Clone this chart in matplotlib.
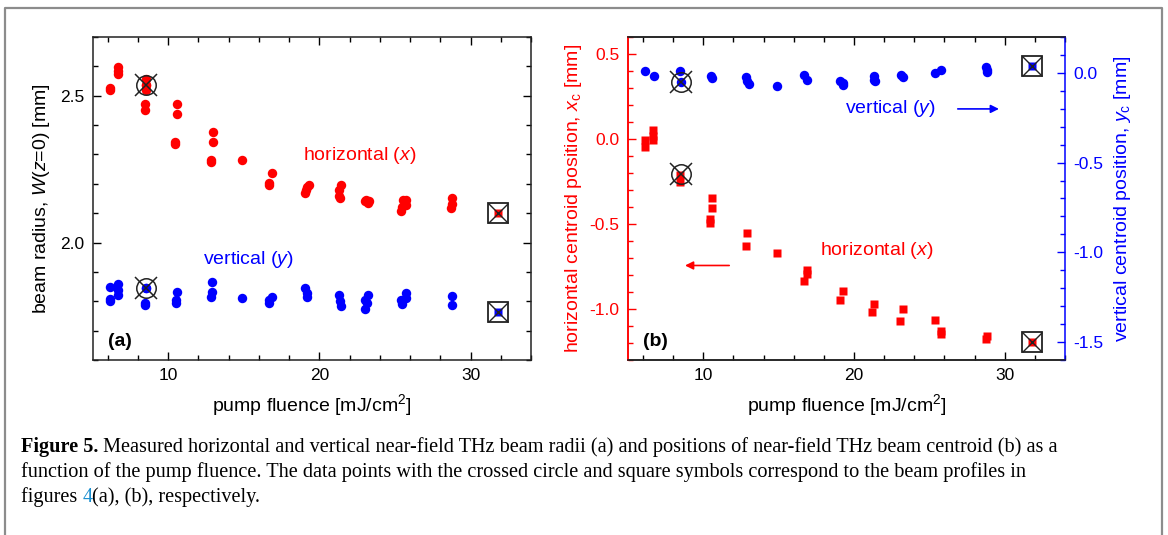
import matplotlib
matplotlib.use('Agg')
import matplotlib.pyplot as plt
from matplotlib.ticker import MultipleLocator
from matplotlib.lines import Line2D

plt.rcParams['font.family'] = ['Liberation Sans', 'DejaVu Sans']
plt.rcParams['mathtext.fontset'] = 'custom'
plt.rcParams['mathtext.rm'] = 'Liberation Sans'
plt.rcParams['mathtext.it'] = 'Liberation Sans:italic'
plt.rcParams['axes.unicode_minus'] = False

RED = '#ff0000'
BLUE = '#0000ff'

# (a) beam radius vs pump fluence
xa_hor = [6.15, 6.15, 6.7, 6.7, 6.7, 8.5, 8.5, 8.5, 8.45, 8.45,
          10.6, 10.6, 10.45, 10.45, 12.95, 12.95, 12.8, 12.8, 14.9,
          16.65, 16.65, 16.85, 19.05, 19.1, 19.2, 19.3, 21.3, 21.3, 21.35, 21.4,
          23.0, 23.1, 23.2, 23.3, 25.4, 25.45, 25.5, 25.75, 25.75, 28.7, 28.75, 28.8]
ya_hor = [2.528, 2.518, 2.597, 2.585, 2.575, 2.557, 2.535, 2.519, 2.472, 2.452,
          2.471, 2.438, 2.343, 2.337, 2.375, 2.342, 2.280, 2.274, 2.280,
          2.203, 2.195, 2.238, 2.170, 2.180, 2.190, 2.197, 2.180, 2.160, 2.152, 2.197,
          2.140, 2.146, 2.135, 2.141, 2.108, 2.122, 2.145, 2.127, 2.145, 2.117, 2.131, 2.151]
xa_ver = [6.15, 6.15, 6.15, 6.7, 6.7, 6.7, 8.5, 8.45, 8.45, 10.55, 10.5, 10.5,
          12.9, 12.9, 12.85, 14.9, 16.65, 16.7, 16.85, 19.05, 19.15, 19.15,
          21.3, 21.35, 21.4, 23.0, 23.0, 23.2, 23.15, 25.4, 25.45, 25.7, 25.7, 28.75, 28.8]
ya_ver = [1.847, 1.807, 1.800, 1.859, 1.837, 1.822, 1.844, 1.794, 1.786, 1.833, 1.805, 1.794,
          1.864, 1.830, 1.813, 1.811, 1.794, 1.805, 1.816, 1.845, 1.828, 1.815,
          1.822, 1.800, 1.785, 1.773, 1.805, 1.822, 1.795, 1.805, 1.790, 1.828, 1.812, 1.819, 1.789]
xa_circ = [8.55, 8.55]
ya_circ = [2.536, 1.844]
xa_sq = [31.8, 31.8]
ya_sq = [2.100, 1.765]

# (b) centroid positions vs pump fluence
xb_hor = [6.1, 6.1, 6.65, 6.65, 6.65, 8.45, 8.45, 10.55, 10.55, 10.45, 10.45, 12.9, 12.8, 14.9,
          16.85, 16.85, 16.65, 19.25, 19.1, 21.35, 21.2, 23.25, 23.05, 25.4, 25.75, 25.75, 28.8, 28.75]
yb_hor = [-0.006, -0.045, 0.053, 0.02, -0.006, -0.21, -0.25, -0.346, -0.404, -0.469, -0.494,
          -0.553, -0.632, -0.669, -0.77, -0.797, -0.833, -0.892, -0.947, -0.97, -1.02, -1.0, -1.073,
          -1.065, -1.128, -1.148, -1.157, -1.177]
xb_ver = [6.15, 6.7, 8.45, 8.55, 10.5, 10.6, 12.85, 12.9, 13.0, 14.9, 16.7, 16.85, 19.1, 19.3, 19.3,
          21.3, 21.35, 21.4, 23.1, 23.25, 25.4, 25.75, 28.75, 28.8, 28.8]
yb_ver = [0.009, -0.015, 0.009, -0.052, -0.015, -0.028, -0.022, -0.047, -0.062, -0.071, -0.009, -0.041,
          -0.043, -0.056, -0.069, -0.019, -0.037, -0.043, -0.009, -0.024, 0.0, 0.015, 0.034, 0.015, 0.004]
xb_circ = 8.55
yb_circ_hor = -0.203
yb_circ_ver = -0.052
xb_sq = 31.8
yb_sq_hor = -1.197
yb_sq_ver = 0.037

caption_lines = [
    [('Figure 5.', 'bold', 'black'),
     (' Measured horizontal and vertical near-field THz beam radii (a) and positions of near-field THz beam centroid (b) as a', 'normal', 'black')],
    [('function of the pump fluence. The data points with the crossed circle and square symbols correspond to the beam profiles in', 'normal', 'black')],
    [('figures ', 'normal', 'black'), ('4', 'normal', '#1a8fd0'), ('(a), (b), respectively.', 'normal', 'black')],
]

fig = plt.figure(figsize=(11.68, 5.35), dpi=100)
W, H = 1168, 535


def style(ax):
    ax.set_xlim(5, 34)
    ax.xaxis.set_major_locator(MultipleLocator(10))
    ax.xaxis.set_minor_locator(MultipleLocator(2))
    ax.tick_params(which='both', direction='in', top=True, labelsize=12.5, width=1, pad=6)
    ax.tick_params(which='major', length=6)
    ax.tick_params(which='minor', length=3.5)
    for s in ax.spines.values():
        s.set_linewidth(1.1)
        s.set_color('#222222')


def crossed_circle(ax, x, y):
    ax.plot(x, y, 'o', ms=14, mfc='none', mec='#222222', mew=1.1, zorder=5)
    ax.plot(x, y, 'x', ms=16, mec='#222222', mew=1.1, zorder=5)


def crossed_square(ax, x, y, col):
    ax.plot(x, y, 's', ms=6, color=col, mec='none', zorder=4)
    ax.plot(x, y, 's', ms=14, mfc='none', mec='#222222', mew=1.3, zorder=5)
    ax.plot(x, y, 'x', ms=14, mec='#222222', mew=1.0, zorder=5)


# ---- panel (a)
ax1 = fig.add_axes([92.6 / W, 1 - 360 / H, (531 - 92.6) / W, 323 / H])
style(ax1)
ax1.tick_params(which='both', right=True)
ax1.set_ylim(1.6, 2.7)
ax1.yaxis.set_major_locator(MultipleLocator(0.5))
ax1.yaxis.set_minor_locator(MultipleLocator(0.1))
ax1.plot(xa_hor, ya_hor, 'o', ms=6.8, color=RED, mec='none')
ax1.plot(xa_ver, ya_ver, 'o', ms=6.8, color=BLUE, mec='none')
for x, y, c in zip(xa_circ, ya_circ, [RED, BLUE]):
    ax1.plot(x, y, 'o', ms=6.8, color=c, mec='none', zorder=4)
    crossed_circle(ax1, x, y)
for x, y, c in zip(xa_sq, ya_sq, [RED, BLUE]):
    crossed_square(ax1, x, y, c)
ax1.set_xlabel('pump fluence [mJ/cm$^2$]', fontsize=14, labelpad=6)
ax1.set_ylabel('beam radius, $W$($z$=0) [mm]', fontsize=14, labelpad=6)
ax1.text(22.7, 2.298, 'horizontal ($x$)', color=RED, fontsize=14, ha='center', va='center')
ax1.text(15.3, 1.943, 'vertical ($y$)', color=BLUE, fontsize=14, ha='center', va='center')
ax1.text(6.0, 1.663, '(a)', fontsize=14, fontweight='bold', ha='left', va='center')

# ---- panel (b)
ax2 = fig.add_axes([628 / W, 1 - 360 / H, (1065 - 628) / W, 323 / H])
style(ax2)
ax2.set_ylim(-1.3, 0.6)
ax2.yaxis.set_major_locator(MultipleLocator(0.5))
ax2.yaxis.set_minor_locator(MultipleLocator(0.1))
ax2.tick_params(axis='y', which='both', colors=RED, right=False)
ax2.spines['left'].set_color(RED)
ax2.spines['right'].set_visible(False)
ax3 = ax2.twinx()
ax3.set_ylim(-1.6, 0.2)
ax3.yaxis.set_major_locator(MultipleLocator(0.5))
ax3.yaxis.set_minor_locator(MultipleLocator(0.1))
ax3.tick_params(axis='y', which='both', direction='in', colors=BLUE, labelsize=12.5, width=1, pad=6)
ax3.tick_params(axis='y', which='major', length=6)
ax3.tick_params(axis='y', which='minor', length=3.5)
for s in ax3.spines.values():
    s.set_linewidth(1.1)
    s.set_color('#222222')
ax3.spines['right'].set_color(BLUE)
ax3.spines['left'].set_color(RED)

ax2.plot(xb_hor, yb_hor, 's', ms=5.8, color=RED, mec='none')
ax3.plot(xb_ver, yb_ver, 'o', ms=6.8, color=BLUE, mec='none')
crossed_circle(ax2, xb_circ, yb_circ_hor)
crossed_circle(ax3, xb_circ, yb_circ_ver)
crossed_square(ax2, xb_sq, yb_sq_hor, RED)
crossed_square(ax3, xb_sq, yb_sq_ver, BLUE)

ax2.set_xlabel('pump fluence [mJ/cm$^2$]', fontsize=14, labelpad=6)
ax2.set_ylabel('horizontal centroid position, $x_\\mathrm{c}$ [mm]', fontsize=14, color=RED, labelpad=4)
ax3.set_ylabel('vertical centroid position, $y_\\mathrm{c}$ [mm]', fontsize=14, color=BLUE, labelpad=6)
ax2.text(21.5, -0.656, 'horizontal ($x$)', color=RED, fontsize=14, ha='center', va='center')
ax2.annotate('', xy=(8.6, -0.744), xytext=(11.9, -0.744),
             arrowprops=dict(arrowstyle='-|>', color=RED, lw=1.2, mutation_scale=12))
ax2.text(22.4, 0.181, 'vertical ($y$)', color=BLUE, fontsize=14, ha='center', va='center')
ax2.annotate('', xy=(29.8, 0.177), xytext=(26.7, 0.177),
             arrowprops=dict(arrowstyle='-|>', color=BLUE, lw=1.2, mutation_scale=12))
ax2.text(6.0, -1.19, '(b)', fontsize=14, fontweight='bold', ha='left', va='center')

# outer frame (open at the bottom)
frame = Line2D([5 / W, 5 / W, 1162 / W, 1162 / W], [0, 1 - 8 / H, 1 - 8 / H, 0],
               transform=fig.transFigure, color='#8c8c8c', lw=1.6)
fig.add_artist(frame)

# caption, built piece by piece
renderer = fig.canvas.get_renderer()
y0 = 1 - 452 / H
for line in caption_lines:
    x = 21 / W
    for txt, wt, col in line:
        t = fig.text(x, y0, txt, fontsize=14.6, fontweight=wt, color=col,
                     family='Liberation Serif', ha='left', va='baseline')
        bb = t.get_window_extent(renderer)
        x = bb.x1 / W
    y0 -= 25 / H

fig.savefig('out.png', dpi=100)
